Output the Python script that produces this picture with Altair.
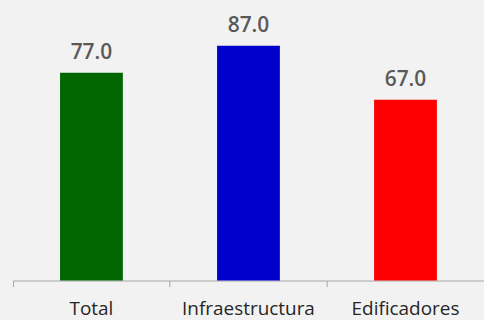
import altair as alt
import pandas as pd

categories = ["Total", "Infraestructura", "Edificadores"]
values = [77.0, 87.0, 67.0]
colors = ["#006600", "#0000CC", "#FF0000"]

df = pd.DataFrame({"cat": categories, "val": values})

x = alt.X("cat:N", sort=categories, title=None,
          scale=alt.Scale(paddingInner=0, paddingOuter=0),
          axis=alt.Axis(bandPosition=0, labelAngle=0,
                        domainColor="#a6a6a6", tickColor="#a6a6a6", tickSize=6,
                        labelFont="Open Sans", labelFontSize=19, labelColor="#262626",
                        labelBaseline="alphabetic", labelPadding=28))
y = alt.Y("val:Q", scale=alt.Scale(domain=[0, 100]), axis=None)

bars = alt.Chart(df).mark_bar(width=alt.RelativeBandSize(0.4)).encode(
    x=x, y=y,
    color=alt.Color("cat:N", scale=alt.Scale(domain=categories, range=colors), legend=None),
)
text = alt.Chart(df).mark_text(baseline="alphabetic", dy=-14, font="Open Sans",
                               fontSize=21, fontWeight=600, color="#595959").encode(
    x=x, y=y, text=alt.Text("val:Q", format=".1f"))

chart = (bars + text).properties(
    width=473, height=271,
    background="#f2f2f2",
    padding={"left": 13, "top": 10, "right": 0, "bottom": 39},
    autosize=alt.AutoSizeParams(type="none"),
).configure_view(stroke=None)

chart.save("out.html", embed_options={"renderer": "svg", "actions": False})
